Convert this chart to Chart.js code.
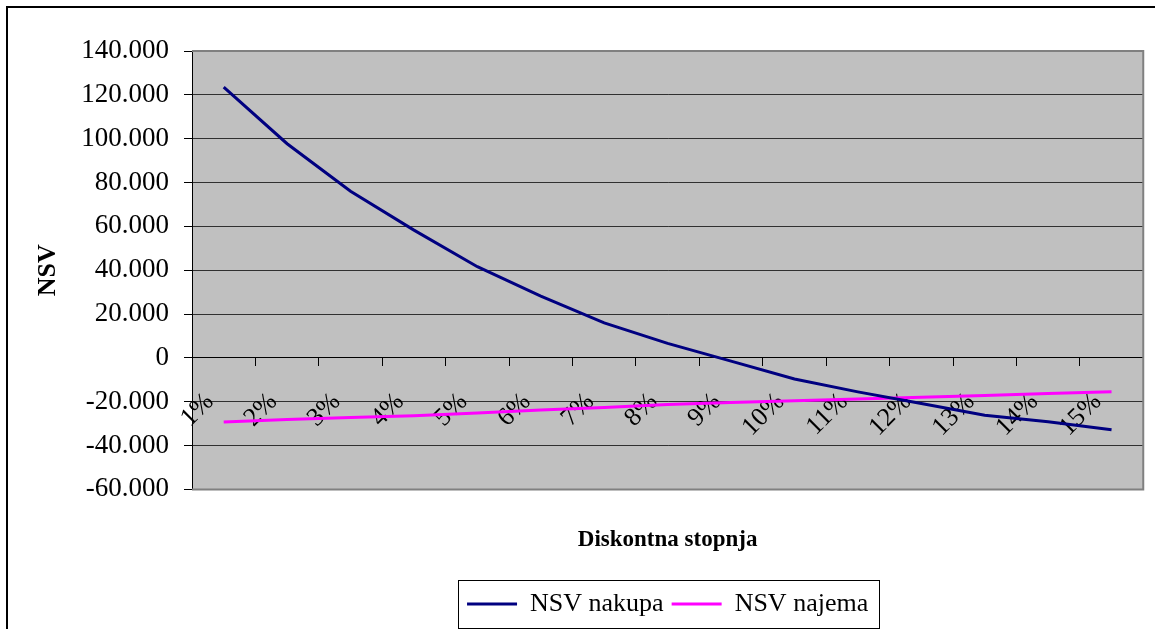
<!DOCTYPE html>
<html>
<head>
<meta charset="utf-8">
<script src="https://cdn.jsdelivr.net/npm/chart.js@4"></script>
<style>
  html, body { margin: 0; padding: 0; background: #fff; }
</style>
</head>
<body>
<canvas id="npvChart" width="1155" height="629"></canvas>
<script>
// Discount rates (categories) and the two NPV series
const rates = ['1%', '2%', '3%', '4%', '5%', '6%', '7%', '8%', '9%', '10%', '11%', '12%', '13%', '14%', '15%'];
const npvPurchase = [123500, 97700, 76000, 58300, 41600, 28200, 16000, 6600, -1500, -9600, -15500, -20800, -26200, -29100, -32800];
const npvLease = [-29200, -28100, -27200, -26400, -25200, -23800, -22600, -21300, -20400, -19600, -18800, -18000, -17200, -16300, -15400];
const yMin = -60000;
const yMax = 140000;
const yStep = 20000;

const serif = "'Liberation Serif', 'Times New Roman', serif";
Chart.defaults.font.family = serif;
Chart.defaults.color = '#000';

// thousands with a dot, like the original
function fmt(v) {
    const s = String(Math.abs(v)).replace(/\B(?=(\d{3})+(?!\d))/g, '.');
    return v < 0 ? '-' + s : s;
}

// white page, outer frame and grey plot area
const backdrop = {
    id: 'backdrop',
    beforeDraw(chart) {
        const { ctx, chartArea: a } = chart;
        ctx.save();
        ctx.fillStyle = '#fff';
        ctx.fillRect(0, 0, chart.width, chart.height);
        ctx.strokeStyle = '#000';
        ctx.lineWidth = 2;
        ctx.strokeRect(7, 7, chart.width + 20, chart.height + 20);
        ctx.fillStyle = '#c0c0c0';
        ctx.fillRect(a.left, a.top, a.width, a.height);
        ctx.restore();
    },
    beforeDatasetsDraw(chart) {
        const { ctx, chartArea: a } = chart;
        ctx.save();
        ctx.strokeStyle = '#808080';
        ctx.lineWidth = 2;
        ctx.beginPath();
        ctx.moveTo(a.left, a.top);
        ctx.lineTo(a.right, a.top);
        ctx.lineTo(a.right, a.bottom);
        ctx.lineTo(a.left, a.bottom);
        ctx.stroke();
        ctx.restore();
    },
    afterDraw(chart) {
        // box round the legend
        const boxes = chart.legend.legendHitBoxes;
        if (!boxes || !boxes.length) return;
        const left = Math.min(...boxes.map(b => b.left)) - 9;
        const right = Math.max(...boxes.map(b => b.left + b.width)) + 11;
        const top = boxes[0].top - 11;
        const bottom = boxes[0].top + boxes[0].height + 11;
        const { ctx } = chart;
        ctx.save();
        ctx.strokeStyle = '#000';
        ctx.lineWidth = 1;
        ctx.strokeRect(Math.round(left) + 0.5, Math.round(top) + 0.5, Math.round(right - left), Math.round(bottom - top));
        ctx.restore();
    }
};

new Chart(document.getElementById('npvChart'), {
    type: 'line',
    data: {
        labels: rates,
        datasets: [
            {
                label: 'NSV nakupa',
                data: npvPurchase,
                borderColor: '#000080',
                backgroundColor: '#000080',
                borderWidth: 3,
                pointRadius: 0,
                tension: 0
            },
            {
                label: 'NSV najema',
                data: npvLease,
                borderColor: '#ff00ff',
                backgroundColor: '#ff00ff',
                borderWidth: 3,
                pointRadius: 0,
                tension: 0
            }
        ]
    },
    options: {
        responsive: false,
        animation: false,
        layout: { padding: { left: 7, top: 51, right: 9, bottom: 2 } },
        plugins: {
            legend: {
                position: 'bottom',
                fullSize: false,
                labels: {
                    usePointStyle: true,
                    pointStyle: 'line',
                    pointStyleWidth: 50,
                    padding: 8,
                    font: { size: 26 }
                }
            },
            title: {
                display: true,
                position: 'bottom',
                fullSize: false,
                weight: 500,
                text: 'Diskontna stopnja',
                font: { size: 23, weight: 'bold' },
                padding: { top: 37, bottom: 29 }
            },
            tooltip: { enabled: false }
        },
        scales: {
            x: {
                position: { y: 0 },
                offset: true,
                grid: {
                    offset: true,
                    drawOnChartArea: false,
                    drawTicks: true,
                    tickLength: 8,
                    tickColor: '#000'
                },
                border: { display: true, color: '#000', width: 1 },
                ticks: {
                    autoSkip: false,
                    minRotation: 45,
                    maxRotation: 45,
                    padding: 21,
                    labelOffset: -14,
                    font: { size: 26 }
                }
            },
            y: {
                min: yMin,
                max: yMax,
                afterFit(scale) { scale.width = 185; },
                grid: {
                    color: '#303030',
                    tickColor: '#000',
                    tickLength: 8
                },
                border: { display: true, color: '#000', width: 1 },
                ticks: {
                    stepSize: yStep,
                    padding: 15,
                    font: { size: 27 },
                    callback: v => fmt(v)
                },
                title: {
                    display: true,
                    text: 'NSV',
                    font: { size: 26, weight: 'bold' },
                    padding: { top: 26 }
                }
            }
        }
    },
    plugins: [backdrop]
});
</script>
</body>
</html>
